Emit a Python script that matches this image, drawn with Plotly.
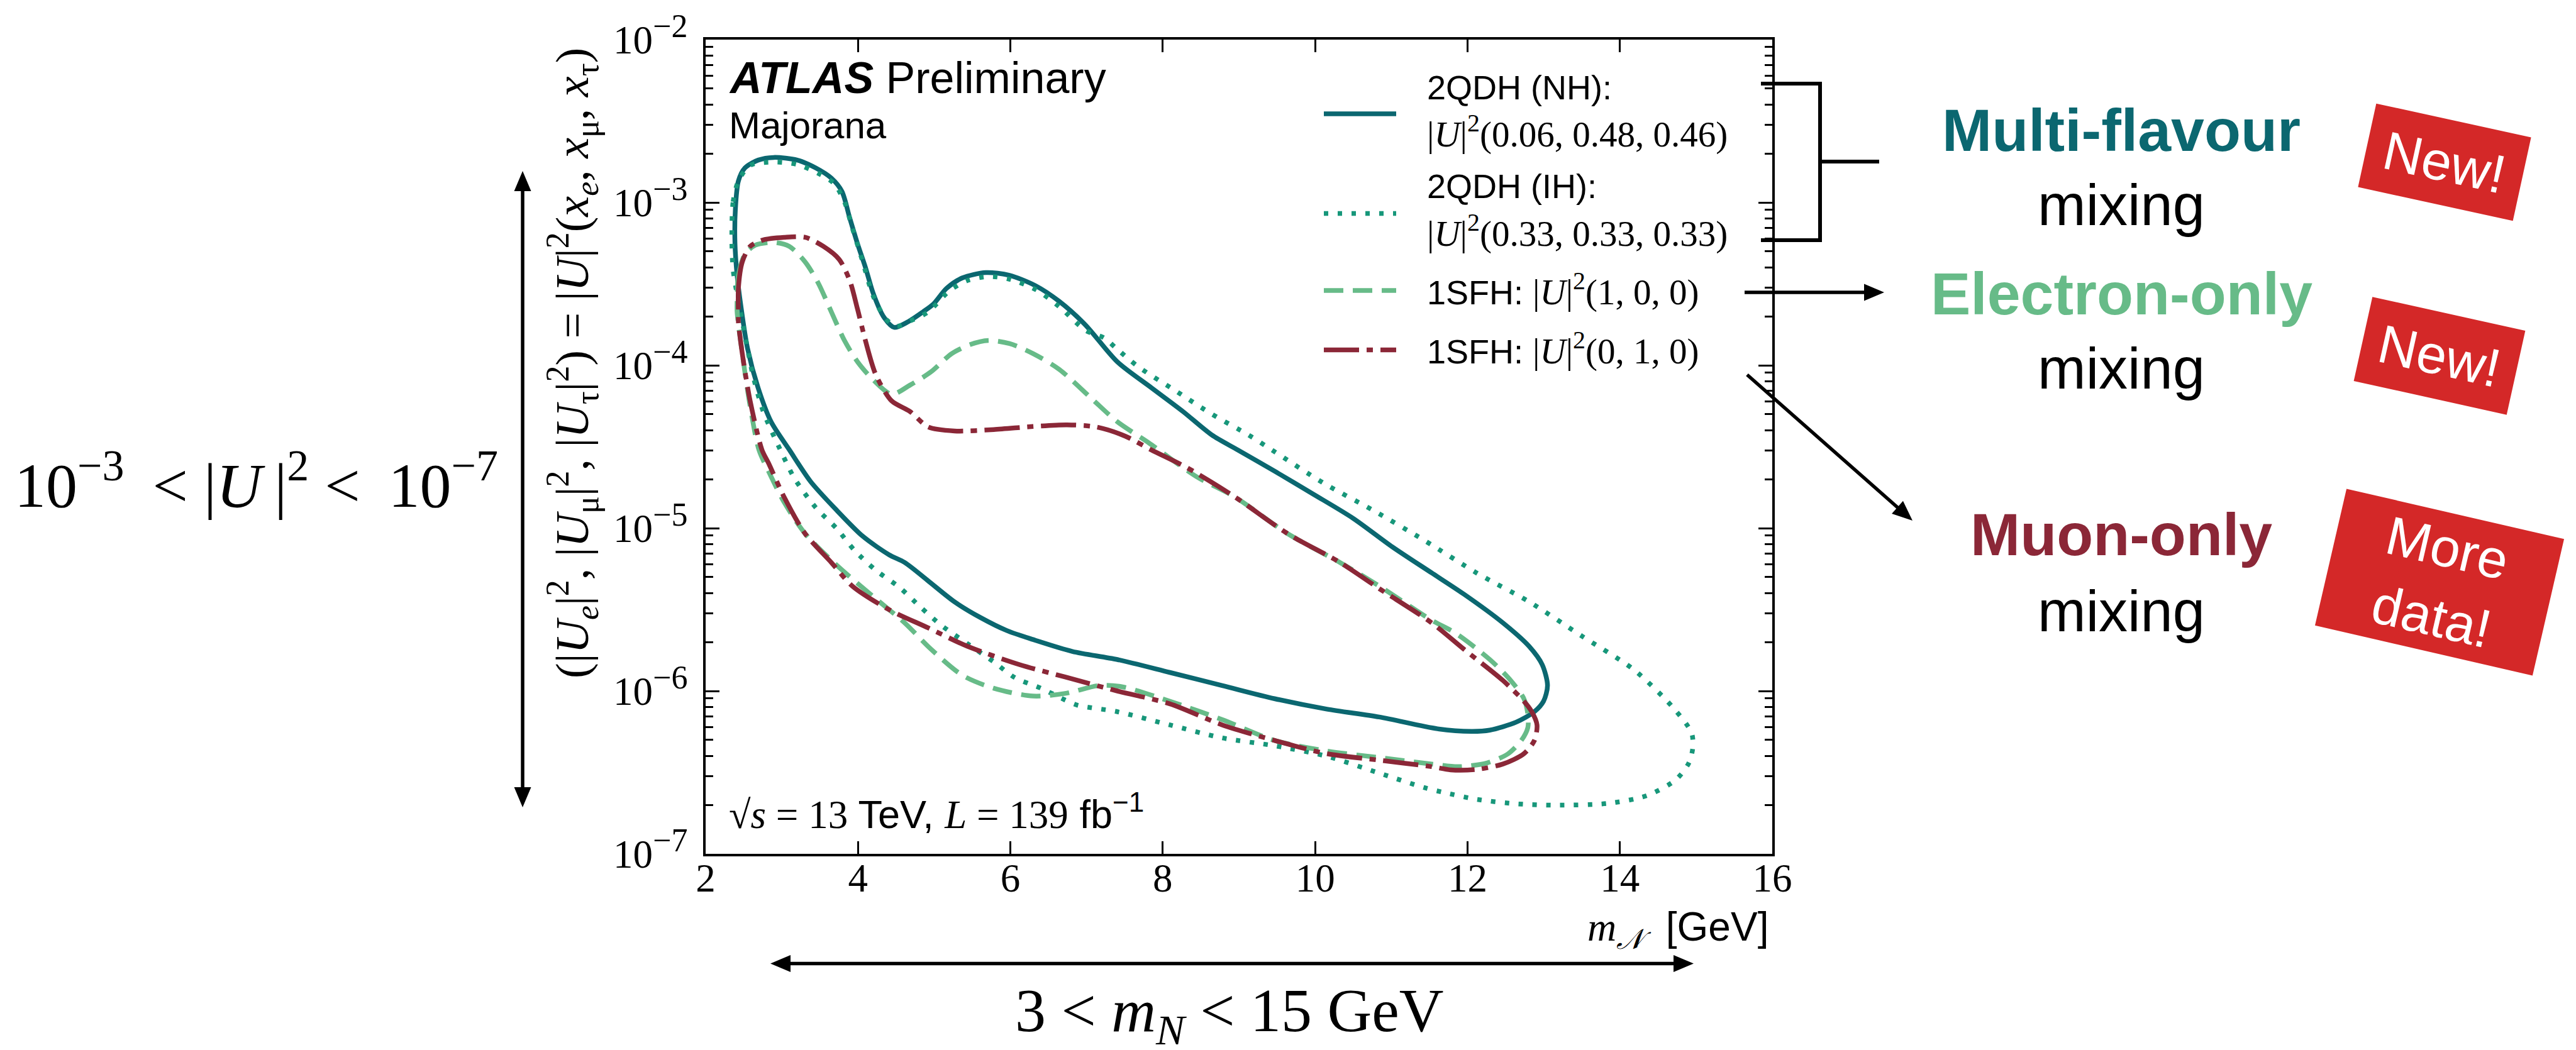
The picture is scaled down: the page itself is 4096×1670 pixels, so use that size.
import math
import plotly.graph_objects as go

# ---------------- data ----------------
# 2QDH (NH): |U|^2 (0.06, 0.48, 0.46)  -- closed contour
nh_x = [2.385, 2.39, 2.43, 2.516, 2.69, 2.894, 3.203, 3.444, 3.65, 3.788, 3.89, 3.994, 4.097, 4.2, 4.338,
        4.475, 4.647, 4.853, 4.991, 5.163, 5.369, 5.678, 5.988, 6.331, 6.641, 6.985, 7.404, 7.851, 8.264,
        8.642, 8.986, 9.467, 9.983, 10.498, 11.014, 11.53, 11.95, 12.465, 12.809, 12.981, 13.05, 12.998,
        12.878, 12.637, 12.293, 12.053, 11.606, 10.842, 10.155, 9.467, 8.78, 8.092, 7.404, 6.813, 6.297,
        5.953, 5.61, 5.266, 4.922, 4.613, 4.406, 4.063, 3.719, 3.375, 3.1, 2.859, 2.688, 2.55, 2.464,
        2.413, 2.385]
nh_y = [5.62e-4, 9.02e-4, 1.355e-3, 1.63e-3, 1.82e-3, 1.89e-3, 1.82e-3, 1.63e-3, 1.41e-3, 1.17e-3, 8.07e-4,
        5.57e-4, 4.00e-4, 2.76e-4, 1.98e-4, 1.71e-4, 1.84e-4, 2.13e-4, 2.38e-4, 2.97e-4, 3.44e-4, 3.71e-4,
        3.57e-4, 3.08e-4, 2.47e-4, 1.77e-4, 1.05e-4, 7.28e-5, 5.21e-5, 3.74e-5, 3.02e-5, 2.24e-5, 1.61e-5,
        1.15e-5, 7.67e-6, 5.31e-6, 3.94e-6, 2.62e-6, 1.88e-6, 1.45e-6, 1.08e-6, 8.65e-7, 7.46e-7, 6.43e-7,
        5.75e-7, 5.65e-7, 5.86e-7, 6.92e-7, 7.74e-7, 8.97e-7, 1.08e-6, 1.30e-6, 1.56e-6, 1.75e-6, 2.07e-6,
        2.35e-6, 2.82e-6, 3.53e-6, 4.74e-6, 6.15e-6, 6.87e-6, 8.91e-6, 1.29e-5, 1.94e-5, 3.02e-5, 4.50e-5,
        7.28e-5, 1.27e-4, 2.29e-4, 3.57e-4, 5.62e-4]

# 2QDH (IH): |U|^2 (0.33, 0.33, 0.33)
ih_x = [2.344, 2.361, 2.43, 2.584, 2.894, 3.203, 3.478, 3.684, 3.822, 3.925, 4.063, 4.2, 4.372, 4.51, 4.681,
        4.922, 5.197, 5.438, 5.713, 5.988, 6.331, 6.641, 6.985, 7.233, 7.39, 7.68, 8.161, 8.642, 9.123, 9.433,
        10.103, 10.756, 11.434, 12.122, 12.809, 13.497, 14.184, 14.7, 14.94, 14.958, 14.906, 14.734, 14.356,
        13.84, 13.153, 12.637, 12.122, 11.709, 11.434, 10.842, 10.155, 9.467, 8.78, 8.092, 7.404, 6.881,
        6.717, 6.4, 6.056, 5.781, 5.438, 5.094, 4.819, 4.544, 4.234, 3.959, 3.719, 3.444, 3.169, 2.997,
        2.756, 2.619, 2.516, 2.43, 2.361, 2.344]
ih_y = [6.00e-4, 1.01e-3, 1.355e-3, 1.69e-3, 1.77e-3, 1.71e-3, 1.51e-3, 1.31e-3, 1.01e-3, 6.97e-4, 4.31e-4,
        2.66e-4, 1.91e-4, 1.74e-4, 1.87e-4, 2.13e-4, 2.86e-4, 3.32e-4, 3.51e-4, 3.38e-4, 2.92e-4, 2.29e-4,
        1.64e-4, 1.47e-4, 1.27e-4, 9.79e-5, 7.01e-5, 5.02e-5, 3.74e-5, 3.02e-5, 1.90e-5, 1.29e-5, 8.41e-6,
        5.30e-6, 3.53e-6, 2.18e-6, 1.35e-6, 7.89e-7, 5.55e-7, 4.53e-7, 3.62e-7, 2.85e-7, 2.28e-7, 2.04e-7,
        1.99e-7, 2.03e-7, 2.16e-7, 2.37e-7, 2.55e-7, 3.13e-7, 3.97e-7, 4.61e-7, 5.15e-7, 6.19e-7, 7.46e-7,
        8.18e-7, 8.81e-7, 1.04e-6, 1.21e-6, 1.51e-6, 1.95e-6, 2.53e-6, 3.28e-6, 4.33e-6, 5.51e-6, 7.26e-6,
        9.95e-6, 1.34e-5, 2.01e-5, 2.91e-5, 5.21e-5, 8.75e-5, 1.53e-4, 2.47e-4, 3.85e-4, 6.00e-4]

# 1SFH: |U|^2 (1, 0, 0)
e_x = [2.413, 2.43, 2.516, 2.653, 2.894, 3.1, 3.306, 3.478, 3.65, 3.822, 3.994, 4.2, 4.441, 4.681, 4.956,
       5.231, 5.472, 5.713, 5.988, 6.297, 6.641, 7.061, 7.404, 7.817, 8.436, 8.951, 9.639, 10.327, 10.842,
       11.53, 11.847, 12.293, 12.568, 12.74, 12.792, 12.792, 12.706, 12.534, 12.259, 11.881, 11.53, 10.842,
       10.155, 9.467, 8.78, 8.092, 7.473, 7.164, 6.717, 6.297, 5.781, 5.369, 4.956, 4.613, 4.2, 3.719, 3.306,
       3.031, 2.825, 2.70, 2.584, 2.481, 2.413, 2.413]
e_y = [2.47e-4, 3.57e-4, 4.81e-4, 5.47e-4, 5.68e-4, 5.37e-4, 4.31e-4, 3.20e-4, 2.13e-4, 1.42e-4, 1.05e-4,
       8.13e-5, 6.64e-5, 7.55e-5, 9.10e-5, 1.18e-4, 1.34e-4, 1.42e-4, 1.36e-4, 1.18e-4, 9.44e-5, 6.28e-5,
       4.50e-5, 3.34e-5, 2.08e-5, 1.55e-5, 9.25e-6, 6.15e-6, 4.41e-6, 2.72e-6, 2.26e-6, 1.56e-6, 1.16e-6,
       8.97e-7, 7.19e-7, 5.97e-7, 4.97e-7, 4.12e-7, 3.62e-7, 3.43e-7, 3.56e-7, 3.90e-7, 4.28e-7, 4.97e-7,
       6.67e-7, 8.65e-7, 1.06e-6, 1.08e-6, 9.66e-7, 9.31e-7, 1.04e-6, 1.25e-6, 1.81e-6, 2.62e-6, 3.80e-6,
       5.93e-6, 9.25e-6, 1.44e-5, 2.24e-5, 3.02e-5, 5.62e-5, 1.18e-4, 2.13e-4, 2.47e-4]

# 1SFH: |U|^2 (0, 1, 0)
mu_x = [2.43, 2.43, 2.481, 2.584, 2.756, 3.031, 3.306, 3.547, 3.753, 3.891, 3.994, 4.097, 4.234, 4.441, 4.681,
        4.922, 5.266, 5.781, 6.297, 6.744, 7.129, 7.508, 7.851, 8.333, 8.951, 9.639, 10.327, 10.842, 11.53,
        11.95, 12.465, 12.74, 12.843, 12.912, 12.878, 12.74, 12.465, 12.122, 11.778, 11.53, 10.842, 10.155,
        9.467, 8.78, 8.092, 7.404, 6.717, 6.125, 5.438, 4.922, 4.406, 3.925, 3.65, 3.306, 3.031, 2.825,
        2.74, 2.584, 2.481, 2.43, 2.43]
mu_y = [2.05e-4, 2.97e-4, 4.31e-4, 5.37e-4, 5.89e-4, 6.11e-4, 6.11e-4, 5.37e-4, 4.47e-4, 3.32e-4, 2.21e-4,
        1.42e-4, 8.75e-5, 6.05e-5, 5.21e-5, 4.18e-5, 3.95e-5, 4.03e-5, 4.21e-5, 4.31e-5, 4.18e-5, 3.67e-5,
        3.02e-5, 2.33e-5, 1.55e-5, 9.25e-6, 6.15e-6, 4.25e-6, 2.62e-6, 1.81e-6, 1.16e-6, 8.65e-7, 7.46e-7,
        6.19e-7, 4.97e-7, 4.12e-7, 3.56e-7, 3.30e-7, 3.28e-7, 3.43e-7, 3.76e-7, 4.12e-7, 4.97e-7, 6.19e-7,
        8.34e-7, 1.00e-6, 1.22e-6, 1.45e-6, 1.88e-6, 2.44e-6, 3.16e-6, 4.41e-6, 6.15e-6, 9.25e-6, 1.55e-5,
        2.51e-5, 3.02e-5, 6.05e-5, 1.18e-4, 1.84e-4, 2.05e-4]

x_ticks = [2, 4, 6, 8, 10, 12, 14, 16]
y_ticks = [1e-7, 1e-6, 1e-5, 1e-4, 1e-3, 1e-2]
y_exps = ["−7", "−6", "−5", "−4", "−3", "−2"]
y_minor = [k * 10.0 ** d for d in range(-7, -2) for k in range(2, 10)]

legend_lines = ["2QDH (NH):", "|<i>U</i>|<sup>2</sup>(0.06, 0.48, 0.46)",
                "2QDH (IH):", "|<i>U</i>|<sup>2</sup>(0.33, 0.33, 0.33)"]

# ---------------- styles ----------------
C_NH = "#0b6770"
C_IH = "#17977a"
C_E = "#67bb88"
C_MU = "#8b2737"
C_RED = "#d42828"
SERIF = "Liberation Serif"
SANS = "Liberation Sans"

FW, FH = 4096, 1670
L, T, W, H = 1122, 63, 1696, 1295


def ox(x):
    return (x - L) / W


def oy(y):
    return 1 - (y - T) / H


fig = go.Figure()
styles = [(nh_x, nh_y, C_NH, "solid"),
          (ih_x, ih_y, C_IH, "7px,15px"),
          (e_x, e_y, C_E, "31px,15px"),
          (mu_x, mu_y, C_MU, "56px,12px,10px,12px")]
for xs, ys, col, dash in styles:
    fig.add_trace(go.Scatter(x=xs, y=ys, mode="lines",
                             line=dict(color=col, width=7.5, dash=dash, shape="spline", smoothing=0.8),
                             showlegend=False, hoverinfo="skip"))

shapes = []
annotations = []


def line(x0, y0, x1, y1, w=6, color="black", dash="solid"):
    shapes.append(dict(type="line", xref="paper", yref="paper", x0=ox(x0), y0=oy(y0), x1=ox(x1),
                       y1=oy(y1), line=dict(color=color, width=w, dash=dash), layer="above"))


def head(xt, yt, xf, yf, hl=32, hw=27):
    d = math.hypot(xt - xf, yt - yf)
    ux, uy = (xt - xf) / d, (yt - yf) / d
    bx, by = xt - ux * hl, yt - uy * hl
    px_, py_ = -uy, ux
    p1 = (bx + px_ * hw / 2, by + py_ * hw / 2)
    p2 = (bx - px_ * hw / 2, by - py_ * hw / 2)
    path = "M{},{} L{},{} L{},{} Z".format(ox(xt), oy(yt), ox(p1[0]), oy(p1[1]), ox(p2[0]), oy(p2[1]))
    shapes.append(dict(type="path", xref="paper", yref="paper", path=path, fillcolor="black",
                       line=dict(width=0), layer="above"))
    return bx + ux * 4, by + uy * 4


def arrow(x0, y0, x1, y1, both=False, w=5.5):
    ex, ey = head(x1, y1, x0, y0)
    sx, sy = (head(x0, y0, x1, y1) if both else (x0, y0))
    line(sx, sy, ex, ey, w=w)


def rbox(cx, cy, w, h, ang, color=C_RED):
    a = math.radians(ang)
    pts = []
    for dx, dy in [(-w / 2, -h / 2), (w / 2, -h / 2), (w / 2, h / 2), (-w / 2, h / 2)]:
        pts.append((cx + dx * math.cos(a) - dy * math.sin(a), cy + dx * math.sin(a) + dy * math.cos(a)))
    path = "M" + " L".join("{},{}".format(ox(p[0]), oy(p[1])) for p in pts) + " Z"
    shapes.append(dict(type="path", xref="paper", yref="paper", path=path, fillcolor=color,
                       line=dict(width=0), layer="above"))


def text(x, y, s, size, family=SANS, color="black", xanchor="left", yanchor="middle", angle=0):
    annotations.append(dict(x=ox(x), y=oy(y), xref="paper", yref="paper", text=s, showarrow=False,
                            xanchor=xanchor, yanchor=yanchor, textangle=angle,
                            font=dict(size=size, family=family, color=color)))


def btext(x, baseline, s, size, **kw):
    # place by baseline: centre of the text box is ~0.35 em above baseline
    text(x, baseline - 0.35 * size, s, size, **kw)


# legend
leg_y = [181, 339.5, 462, 556.5]
for (xs, ys, col, dash), yy in zip(styles, leg_y):
    line(2105, yy, 2220, yy, w=7.5, color=col, dash=dash)
btext(2267, 157.5, legend_lines[0], 54)
btext(2267, 229, legend_lines[1], 57, family=SERIF)
btext(2267, 315, legend_lines[2], 54)
btext(2267, 387.6, legend_lines[3], 57, family=SERIF)
btext(2267, 479, '1SFH: <span style="font-family:Liberation Serif;font-size:57px">|<i>U</i>|<sup>2</sup>(1, 0, 0)</span>', 54)
btext(2267, 573, '1SFH: <span style="font-family:Liberation Serif;font-size:57px">|<i>U</i>|<sup>2</sup>(0, 1, 0)</span>', 54)

# labels inside the plot
btext(1157, 148.5, "<b><i>ATLAS</i></b> Preliminary", 70)
btext(1157, 220, "Majorana", 60)
btext(1157, 1313, '<span style="font-family:Liberation Serif">√<i>s</i> = 13</span> TeV, '
                  '<span style="font-family:Liberation Serif"><i>L</i> = 139</span> fb<sup>−1</sup>', 63)

# axis titles
btext(2814, 1501, '<span style="font-family:Liberation Serif"><i>m</i><sub><i>𝒩</i></sub></span>  [GeV]', 64,
      xanchor="right")
text(910, 578, "(|<i>U<sub>e</sub></i>|<sup>2</sup>, |<i>U</i><sub>μ</sub>|<sup>2</sup>, "
               "|<i>U</i><sub>τ</sub>|<sup>2</sup>) = |<i>U</i>|<sup>2</sup>"
               "(<i>x<sub>e</sub></i>, <i>x</i><sub>μ</sub>, <i>x</i><sub>τ</sub>)",
     74, family=SERIF, xanchor="center", angle=-90)

# outer annotations
btext(407, 800, "10<sup>−3</sup>\u2009\u00a0<\u00a0|<i>U</i>\u2009|<sup>2</sup>\u00a0<\u00a0\u200910<sup>−7</sup>",
      100, family=SERIF, xanchor="center")
btext(1955, 1649, "3 < <i>m<sub>N</sub></i> < 15 GeV", 98, family=SERIF, xanchor="center")
arrow(831, 1284, 831, 272, both=True)
arrow(1225, 1532.5, 2693, 1532.5, both=True)

# bracket and arrows on the right
shapes.append(dict(type="path", xref="paper", yref="paper",
                   path="M{},{} L{},{} L{},{} L{},{} M{},{} L{},{}".format(
                       ox(2800), oy(133), ox(2894), oy(133), ox(2894), oy(382), ox(2800), oy(382),
                       ox(2894), oy(257), ox(2988), oy(257)),
                   line=dict(color="black", width=6), layer="above"))
arrow(2774, 465, 2996, 465)
arrow(2778, 596, 3041, 828)

CX = 3373
btext(CX, 240, "<b>Multi-flavour</b>", 95, color=C_NH, xanchor="center")
btext(CX, 358, "mixing", 92, xanchor="center")
btext(CX, 500, "<b>Electron-only</b>", 95, color=C_E, xanchor="center")
btext(CX, 618.5, "mixing", 92, xanchor="center")
btext(CX, 883, "<b>Muon-only</b>", 95, color=C_MU, xanchor="center")
btext(CX, 1004.5, "mixing", 92, xanchor="center")

rbox(3887, 258, 252, 136, 12.3)
rbox(3879, 566, 249, 137, 12.5)
rbox(3879, 926, 355, 223, 13.0)
text(3887, 258, "New!", 86, color="white", xanchor="center", angle=12.3)
text(3879, 566, "New!", 86, color="white", xanchor="center", angle=12.5)
text(3879, 926, "More<br>data!", 86, color="white", xanchor="center", angle=13.0)

axis_common = dict(showline=True, linecolor="black", linewidth=4, mirror="ticks", ticks="inside",
                   tickcolor="black", tickwidth=3, showgrid=False, zeroline=False)
fig.update_layout(
    width=FW, height=FH, autosize=False,
    margin=dict(l=L, r=FW - L - W, t=T, b=FH - T - H, pad=0),
    paper_bgcolor="white", plot_bgcolor="white", showlegend=False,
    xaxis=dict(range=[2, 16], tickvals=x_ticks, ticktext=[str(v) for v in x_ticks], ticklen=20,
               ticklabelstandoff=-20, tickfont=dict(family=SERIF, size=63, color="black"), **axis_common),
    yaxis=dict(type="log", range=[-7, -2], tickvals=y_ticks,
               ticktext=['10<sup><span style="font-size:52px">{}</span></sup>'.format(e) for e in y_exps],
               ticklen=22, ticklabelstandoff=12, tickfont=dict(family=SERIF, size=63, color="black"),
               minor=dict(tickvals=y_minor, ticks="inside", ticklen=12, tickwidth=3, tickcolor="black",
                          showgrid=False),
               **axis_common),
    shapes=shapes, annotations=annotations,
)
fig.write_html("out.html")
